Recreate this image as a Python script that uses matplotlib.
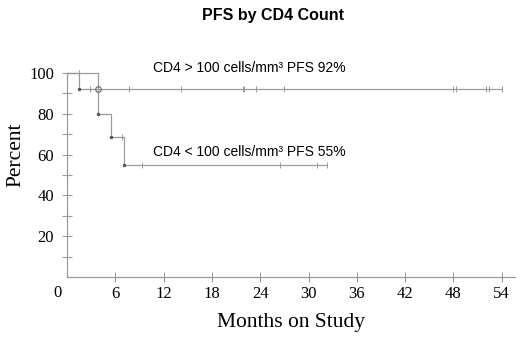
import matplotlib
matplotlib.use("Agg")
import matplotlib.pyplot as plt

# CD4 > 100 group: step curve and censor marks
hi_t = [0, 1.5, 54.0]
hi_s = [100, 92.3, 92.3]
hi_cens_t = [2.9, 7.7, 14.2, 21.8, 22.0, 23.5, 27.0, 47.9, 48.3, 52.0, 52.4, 54.0]
hi_circle = (3.9, 92.3)

# CD4 < 100 group
lo_t = [0, 3.9, 5.5, 7.1, 32.3]
lo_s = [100, 80.0, 68.6, 54.9, 54.9]
lo_cens_t = [1.5, 6.8, 9.3, 26.4, 31.0, 32.3]

xticks = [6, 12, 18, 24, 30, 36, 42, 48, 54]
yticks = [20, 40, 60, 80, 100]
yminor = [10, 30, 50, 70, 90]

gray = "#9a9a9a"
serif = "Liberation Serif"
sans = "Liberation Sans"

fig = plt.figure(figsize=(5.2, 3.43), dpi=100)
ax = fig.add_axes([0.129, 0.1924, 0.862, 0.5948])

def step_vals(ts, ss, t):
    v = ss[0]
    for ti, si in zip(ts, ss):
        if t >= ti:
            v = si
    return v

ax.step(hi_t, hi_s, where="post", color=gray, lw=0.9, clip_on=False)
ax.step(lo_t, lo_s, where="post", color=gray, lw=0.9, clip_on=False)

# event dots at step corners
ax.plot(hi_t[1:2], hi_s[1:2], "o", ms=1.5, color="#555555", clip_on=False)
ax.plot(lo_t[1:4], lo_s[1:4], "o", ms=1.5, color="#555555", clip_on=False)

ax.plot([hi_circle[0]], [hi_circle[1]], "o", ms=4, mfc="none", mec="#666666",
        mew=0.8, clip_on=False)

ax.plot(hi_cens_t, [step_vals(hi_t, hi_s, t) for t in hi_cens_t], "|",
        ms=5, mew=0.7, color=gray, clip_on=False)
ax.plot(lo_cens_t, [step_vals(lo_t, lo_s, t) for t in lo_cens_t], "|",
        ms=5, mew=0.7, color=gray, clip_on=False)

ax.set_xlim(0, 55.7)
ax.set_ylim(0, 100)
for s in ["top", "right"]:
    ax.spines[s].set_visible(False)
for s in ["left", "bottom"]:
    ax.spines[s].set_color(gray)
    ax.spines[s].set_linewidth(0.9)

ax.set_xticks(xticks)
ax.set_yticks(yticks)
ax.set_yticks(yminor, minor=True)
ax.tick_params(axis="both", which="both", direction="inout", length=7,
               width=0.8, color=gray, labelsize=12, pad=6)
ax.tick_params(axis="x", pad=3)
for lab in ax.get_xticklabels() + ax.get_yticklabels():
    lab.set_fontfamily(serif)

ax.text(-1.25, -4.0, "0", ha="center", va="top", fontsize=12,
        family=serif, clip_on=False)

ax.set_xlabel("Months on Study", fontsize=15.5, family=serif, labelpad=8)
fig.text(16 / 520, 1 - 155 / 343, "Percent", rotation=90, ha="center",
         va="center", fontsize=15.5, family=serif)

ax.text(10.7, 102.5, "CD4 > 100 cells/mm³ PFS 92%", fontsize=10,
        family=sans, va="center")
ax.text(10.7, 61.5, "CD4 < 100 cells/mm³ PFS 55%", fontsize=10,
        family=sans, va="center")

fig.text(0.525, 0.955, "PFS by CD4 Count", ha="center", va="center",
         fontsize=11.5, fontweight="bold", family=sans)

fig.savefig("out.png", dpi=100)
